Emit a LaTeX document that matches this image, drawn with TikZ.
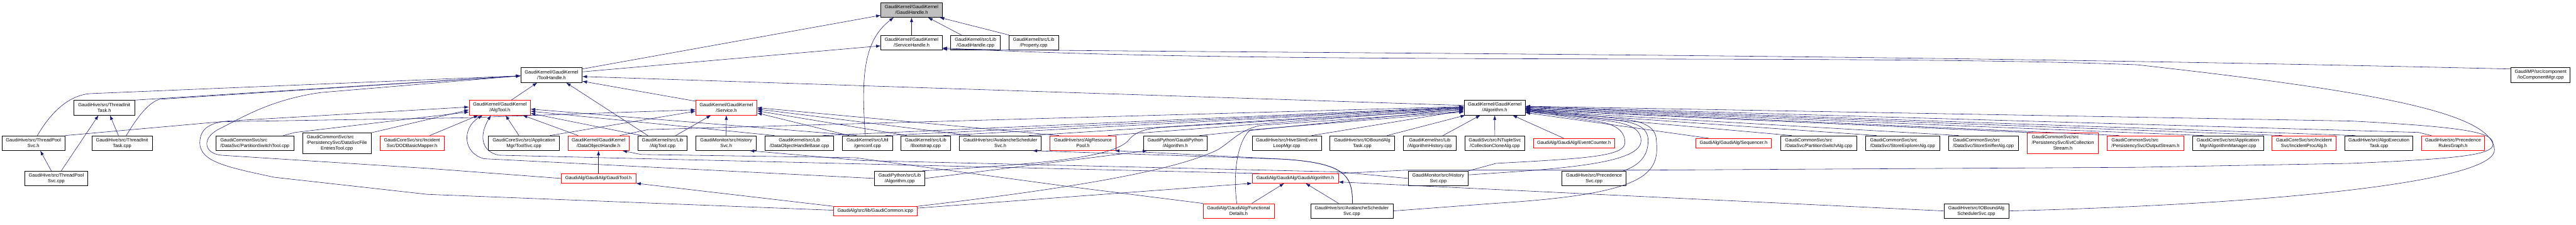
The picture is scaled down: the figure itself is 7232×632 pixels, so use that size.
\documentclass[tikz,border=0pt]{standalone}
\usepackage{fontspec}
\newfontfamily\doxfont{Liberation Sans}
\usetikzlibrary{arrows.meta}
\definecolor{edgeblue}{HTML}{191970}
\definecolor{boxred}{HTML}{FF0000}
\definecolor{rootgray}{HTML}{BFBFBF}
\tikzset{
  file/.style={draw=black, fill=white, line width=1pt, inner sep=1pt, align=center,
    minimum height=41.5pt, font=\doxfont\fontsize{13.2}{15.8}\selectfont},
  hot/.style={file, draw=boxred},
  oneline/.style={minimum height=26.5pt},
  threeline/.style={minimum height=57.3pt},
  dep/.style={->, draw=edgeblue, line width=1pt},
}
\newcommand{\leftlines}[1]{\begin{tabular}{@{}l@{}}#1\end{tabular}}
\newcommand{\midline}[1]{\multicolumn{1}{@{}c@{}}{#1}}

\begin{document}
\begin{tikzpicture}[x=1pt, y=-1pt, >={Latex[length=13pt,width=9pt]}]
\useasboundingbox[fill=white] (0,0) rectangle (7232,632);

% headers near the root
\node[file, fill=rootgray, minimum width=172pt] (gh) at (2559.2,27.7) {GaudiKernel/GaudiKernel\\/GaudiHandle.h};
\node[file, minimum width=172pt] (sh) at (2559.2,119.5) {GaudiKernel/GaudiKernel\\/ServiceHandle.h};
\node[file, minimum width=139pt] (ghcpp) at (2738.7,119.5) {GaudiKernel/src/Lib\\/GaudiHandle.cpp};
\node[file, minimum width=139pt] (propcpp) at (2902,119.5) {GaudiKernel/src/Lib\\/Property.cpp};
\node[file, minimum width=172pt] (th) at (1548.4,211) {GaudiKernel/GaudiKernel\\/ToolHandle.h};
\node[file, minimum width=166pt] (iocm) at (7132.6,211) {GaudiMP/src/component\\/IoComponentMgr.cpp};
\node[file, minimum width=170pt] (tih) at (292.6,302.5) {GaudiHive/src/ThreadInit\\Task.h};
\node[hot, minimum width=172pt] (algtoolh) at (1403.2,302.5) {GaudiKernel/GaudiKernel\\/AlgTool.h};
\node[hot, minimum width=172pt] (serviceh) at (2039.2,302.5) {GaudiKernel/GaudiKernel\\/Service.h};
\node[file, minimum width=172pt] (algh) at (4196.2,302.5) {GaudiKernel/GaudiKernel\\/Algorithm.h};

% fourth row
\node[file, minimum width=177pt] (tpsh) at (94,402) {GaudiHive/src/ThreadPool\\Svc.h};
\node[file, minimum width=169pt] (ticpp) at (342.6,402) {GaudiHive/src/ThreadInit\\Task.cpp};
\node[file, align=left, minimum width=220pt] (pstool) at (715.5,402) {GaudiCommonSvc/src\\/DataSvc/PartitionSwitchTool.cpp};
\node[file, threeline, minimum width=193pt] (dsfet) at (945.8,402) {\leftlines{GaudiCommonSvc/src\\/PersistencySvc/DataSvcFile\\\midline{EntriesTool.cpp}}};
\node[hot, minimum width=180pt] (dodbm) at (1156.6,402) {GaudiCoreSvc/src/Incident\\Svc/DODBasicMapper.h};
\node[file, minimum width=199pt] (toolsvc) at (1470.9,402) {GaudiCoreSvc/src/Application\\Mgr/ToolSvc.cpp};
\node[hot, minimum width=172pt] (dohh) at (1680.2,402) {GaudiKernel/GaudiKernel\\/DataObjectHandle.h};
\node[file, minimum width=138pt] (algtoolcpp) at (1860.2,402) {GaudiKernel/src/Lib\\/AlgTool.cpp};
\node[file, minimum width=169pt] (histsvch) at (2038.6,402) {GaudiMonitor/src/History\\Svc.h};
\node[file, minimum width=192pt] (dohbcpp) at (2244.3,402) {GaudiKernel/src/Lib\\/DataObjectHandleBase.cpp};
\node[file, minimum width=140pt] (genconf) at (2435.5,402) {GaudiKernel/src/Util\\/genconf.cpp};
\node[file, minimum width=139pt] (bootstrap) at (2598.7,402) {GaudiKernel/src/Lib\\/Bootstrap.cpp};
\node[file, minimum width=230pt] (avsh) at (2808.3,402) {GaudiHive/src/AvalancheScheduler\\Svc.h};
\node[hot, minimum width=186pt] (arph) at (3040.3,402) {GaudiHive/src/AlgResource\\Pool.h};
\node[file, minimum width=180pt] (gpalgh) at (3299.5,402) {GaudiPython/GaudiPython\\/Algorithm.h};
\node[file, minimum width=194pt] (hiveslim) at (3612.4,402) {GaudiHive/src/HiveSlimEvent\\LoopMgr.cpp};
\node[file, minimum width=182pt] (ioboundtask) at (3824.4,402) {GaudiHive/src/IOBoundAlg\\Task.cpp};
\node[file, minimum width=149pt] (alghist) at (4014,402) {GaudiKernel/src/Lib\\/AlgorithmHistory.cpp};
\node[file, minimum width=168pt] (ccalg) at (4196.6,402) {GaudiSvc/src/NTupleSvc\\/CollectionCloneAlg.cpp};
\node[hot, oneline, minimum width=229pt] (evtcounter) at (4418.8,402) {GaudiAlg/GaudiAlg/EventCounter.h};
\node[hot, oneline, minimum width=213pt] (sequencer) at (4866.7,402) {GaudiAlg/GaudiAlg/Sequencer.h};
\node[file, align=left, minimum width=215pt] (psalg) at (5105.9,402) {GaudiCommonSvc/src\\/DataSvc/PartitionSwitchAlg.cpp};
\node[file, align=left, minimum width=208pt] (sealg) at (5341.4,402) {GaudiCommonSvc/src\\/DataSvc/StoreExplorerAlg.cpp};
\node[file, align=left, minimum width=196pt] (ssalg) at (5568.3,402) {GaudiCommonSvc/src\\/DataSvc/StoreSnifferAlg.cpp};
\node[hot, threeline, minimum width=200pt] (ecs) at (5791.3,402) {\leftlines{GaudiCommonSvc/src\\/PersistencySvc/EvtCollection\\\midline{Stream.h}}};
\node[hot, align=left, minimum width=216pt] (outstream) at (6023.3,402) {GaudiCommonSvc/src\\/PersistencySvc/OutputStream.h};
\node[file, minimum width=199pt] (algmgr) at (6254.9,402) {GaudiCoreSvc/src/Application\\Mgr/AlgorithmManager.cpp};
\node[hot, minimum width=180pt] (ipalg) at (6468.4,402) {GaudiCoreSvc/src/Incident\\Svc/IncidentProcAlg.h};
\node[file, minimum width=191pt] (aet) at (6678.6,402) {GaudiHive/src/AlgoExecution\\Task.cpp};
\node[hot, minimum width=176pt] (prg) at (6886.7,402) {GaudiHive/src/Precedence\\RulesGraph.h};

% lower rows
\node[file, minimum width=177pt] (tpscpp) at (158,501.2) {GaudiHive/src/ThreadPool\\Svc.cpp};
\node[hot, oneline, minimum width=210pt] (gtool) at (1680.2,501.2) {GaudiAlg/GaudiAlg/GaudiTool.h};
\node[file, minimum width=142pt] (gpalgcpp) at (2525.7,501.2) {GaudiPython/src/Lib\\/Algorithm.cpp};
\node[hot, oneline, minimum width=242pt] (galgh) at (3636.3,501.2) {GaudiAlg/GaudiAlg/GaudiAlgorithm.h};
\node[file, minimum width=169pt] (histsvccpp) at (4037.7,501.2) {GaudiMonitor/src/History\\Svc.cpp};
\node[file, minimum width=180pt] (precsvc) at (4475.2,501.2) {GaudiHive/src/Precedence\\Svc.cpp};
\node[hot, oneline, minimum width=236pt, minimum height=25.3pt] (gcicpp) at (2457.3,592.6) {GaudiAlg/src/lib/GaudiCommon.icpp};
\node[hot, minimum width=200pt] (fdh) at (3477.3,592.6) {GaudiAlg/GaudiAlg/Functional\\Details.h};
\node[file, minimum width=231pt] (avscpp) at (3795,592.6) {GaudiHive/src/AvalancheScheduler\\Svc.cpp};
\node[file, minimum width=182pt] (iobsched) at (5548.3,592.6) {GaudiHive/src/IOBoundAlg\\SchedulerSvc.cpp};

% into the root and ServiceHandle.h
\draw[dep] (sh) -- (gh);
\draw[dep] ([xshift=-40pt]ghcpp.north) -- ([xshift=46pt]gh.south);
\draw[dep] (propcpp.north west) -- ([xshift=-8pt]gh.south east);
\draw[dep] ([yshift=-4pt]th.north east) -- ([yshift=6pt]gh.south west);
\draw[dep] ([yshift=-12pt]th.north east) -- ([yshift=12pt]sh.south west);
\draw[dep] ([xshift=-6pt]genconf.north) .. controls (2415,200) and (2430,110) .. ([xshift=-50pt]gh.south);
\draw[dep] ([yshift=-4pt]iocm.north west) .. controls (5200,150) and (3600,150) .. ([yshift=3pt]sh.south east);
\draw[dep] (iobsched.east) .. controls (6500,570) and (7010,500) .. (7003,420)
  .. controls (6995,320) and (6700,260) .. (6000,182)
  .. controls (5200,150) and (3600,185) .. ([yshift=6pt]sh.south east);

% into ToolHandle.h
\draw[dep] (tih.north east) -- ([yshift=-2pt]th.west);
\draw[dep] ([xshift=11pt]tpsh.north) .. controls (140,320) and (190,268) .. (253,263) -- ([yshift=-2pt]th.west);
\draw[dep] ([xshift=12pt]ticpp.north) .. controls (385,330) and (415,290) .. (447,279) -- ([yshift=-2pt]th.west);
\draw[dep] (gtool.west) -- (1200,473) -- (620,436) .. controls (570,430) and (565,385) .. (620,360)
  .. controls (680,330) and (760,280) .. (900,260) -- ([yshift=-2pt]th.west);
\draw[dep] ([xshift=32pt]algtoolh.north) -- ([xshift=-40pt]th.south);
\draw[dep] ([yshift=-3pt]serviceh.north west) -- ([yshift=4pt]th.south east);
\draw[dep] ([yshift=-15pt]algh.north west) -- ([yshift=-4pt]th.east);
\draw[dep] ([xshift=28pt]algtoolcpp.north west) -- ([xshift=41pt]th.south);

% thread pool files
\draw[dep] ([xshift=-10pt]ticpp.north) -- ([xshift=16pt]tih.south);
\draw[dep] ([xshift=-14pt]tpscpp.north) -- ([xshift=19pt]tpsh.south);
\draw[dep] ([xshift=14pt]tpscpp.north) -- ([xshift=-16pt]tih.south);
\draw[dep] (tpsh.north east) -- (620,342) -- (1300,331) -- ([yshift=-6pt]serviceh.west);

% into AlgTool.h
\draw[dep] ([xshift=80pt]pstool.north) -- (829,372) -- ([yshift=-12pt]algtoolh.west);
\draw[dep] (dsfet.north east) -- ([yshift=-6pt]algtoolh.west);
\draw[dep] ([yshift=2pt]gcicpp.west) -- (1200,546) -- (770,498) .. controls (640,470) and (560,455) .. (561,400)
  .. controls (562,360) and (590,345) .. (640,340) -- ([yshift=2pt]algtoolh.west);
\draw[dep] ([xshift=50pt]dodbm.north) -- ([xshift=-60pt]algtoolh.south);
\draw[dep] (gpalgcpp.west) -- (1360,446) .. controls (1300,432) and (1295,360) .. ([xshift=-48pt]algtoolh.south);
\draw[dep] ([xshift=22pt]galgh.north west) -- (1400,436) .. controls (1350,425) and (1345,380) .. ([xshift=-25pt]algtoolh.south);
\draw[dep] ([xshift=-14pt]toolsvc.north) -- ([xshift=16pt]algtoolh.south);
\draw[dep] ([xshift=-57pt]dohh.north) -- ([xshift=64pt]algtoolh.south);
\draw[dep] ([xshift=10pt]algtoolcpp.north west) -- ([yshift=-16pt]algtoolh.east);
\draw[dep] ([xshift=-70pt]dohbcpp.north) -- ([yshift=-10pt]algtoolh.east);
\draw[dep] ([xshift=-30pt]genconf.north) -- ([yshift=-4pt]algtoolh.east);

% into Service.h
\draw[dep] ([xshift=73pt]toolsvc.north) -- ([yshift=-10pt]serviceh.west);
\draw[dep] ([xshift=37pt]algtoolcpp.north) -- ([xshift=-43pt]serviceh.south);
\draw[dep] (histsvch) -- (serviceh);
\draw[dep] ([xshift=-52pt]genconf.north) -- ([yshift=-15pt]serviceh.east);
\draw[dep] ([xshift=-53pt]bootstrap.north) -- ([yshift=-9pt]serviceh.east);
\draw[dep] ([xshift=-84pt]avsh.north) -- ([yshift=-4pt]serviceh.east);
\draw[dep] ([xshift=-67pt]arph.north) -- (serviceh.east);

% into Algorithm.h, left side
\draw[dep] ([xshift=60pt]dohh.north) -- (1820,364) -- ([yshift=3pt]algh.west);
\draw[dep] ([xshift=66pt]dohbcpp.north) -- ([yshift=2pt]algh.west);
\draw[dep] ([xshift=50pt]genconf.north) -- ([yshift=1pt]algh.west);
\draw[dep] ([xshift=50pt]bootstrap.north) -- (algh.west);
\draw[dep] ([xshift=80pt]avsh.north) -- ([yshift=-1pt]algh.west);
\draw[dep] ([xshift=70pt]arph.north) -- ([yshift=-2pt]algh.west);
\draw[dep] ([xshift=68pt]gpalgh.north) -- ([yshift=-4pt]algh.west);
\draw[dep] ([xshift=70pt]hiveslim.north) -- ([yshift=-8pt]algh.west);
\draw[dep] ([xshift=-8pt]gpalgcpp.north east) .. controls (2900,462) and (3130,445) .. (3170,392)
  .. controls (3190,368) and (3220,362) .. (3260,358) -- ([yshift=-6pt]algh.west);
\draw[dep] (gcicpp.north east) .. controls (3000,530) and (3300,480) .. (3420,420)
  .. controls (3460,395) and (3480,365) .. (3540,352) -- ([yshift=-10pt]algh.west);
\draw[dep] ([xshift=-5pt]fdh.north) .. controls (3462,500) and (3470,400) .. (3510,365) -- ([yshift=-12pt]algh.west);
\draw[dep] ([xshift=70pt]ioboundtask.north) -- ([xshift=4pt]algh.south west);
\draw[dep] ([xshift=37pt]alghist.north) -- ([xshift=-40pt]algh.south);
\draw[dep] (ccalg) -- (algh);
\draw[dep] ([xshift=-29pt]evtcounter.north) -- ([xshift=50pt]algh.south);

% into Algorithm.h, right side
\draw[dep] ([xshift=-70pt]sequencer.north) -- ([yshift=-14pt]algh.east);
\draw[dep] ([xshift=-76pt]psalg.north) -- ([yshift=-12pt]algh.east);
\draw[dep] ([xshift=-73pt]sealg.north) -- ([yshift=-10pt]algh.east);
\draw[dep] ([xshift=-69pt]ssalg.north) -- ([yshift=-8pt]algh.east);
\draw[dep] ([xshift=-85pt]ecs.north) -- ([yshift=-6pt]algh.east);
\draw[dep] ([xshift=-74pt]outstream.north) -- ([yshift=-4pt]algh.east);
\draw[dep] ([xshift=-69pt]algmgr.north) -- ([yshift=-2pt]algh.east);
\draw[dep] ([xshift=-61pt]ipalg.north) -- (algh.east);
\draw[dep] ([xshift=-66pt]aet.north) -- ([yshift=2pt]algh.east);
\draw[dep] ([xshift=-61pt]prg.north) -- (6790,372) -- ([yshift=3pt]algh.east);
\draw[dep] ([xshift=-4pt]galgh.north east) -- (3950,478) -- (4600,478) -- (6000,470) -- (6600,459)
  .. controls (6906,446) and (6999,435) .. (6999,405) .. controls (6999,375) and (6950,358) .. (6600,340)
  -- ([yshift=4pt]algh.east);
\draw[dep] (histsvccpp.north east) -- (4200,459) .. controls (4450,445) and (4562,440) .. (4562,400)
  .. controls (4562,360) and (4520,345) .. (4477,340) -- ([yshift=-8pt]algh.east);
\draw[dep] ([yshift=10pt]histsvccpp.east) -- (4200,486) .. controls (4450,470) and (4607,450) .. (4607,395)
  .. controls (4607,360) and (4570,345) .. (4500,338) -- ([yshift=-6pt]algh.east);
\draw[dep] ([xshift=-8pt]precsvc.north east) .. controls (4600,465) and (4627,440) .. (4627,395)
  .. controls (4627,355) and (4590,342) .. (4520,336) -- ([yshift=-4pt]algh.east);
\draw[dep] (avscpp.east) -- (4200,571) .. controls (4620,545) and (4660,490) .. (4650,395)
  .. controls (4650,350) and (4600,338) .. (4540,333) -- ([yshift=-2pt]algh.east);

% lower rows
\draw[dep] (gtool) -- (dohh);
\draw[dep] (gcicpp.north west) -- (gtool.south east);
\draw[dep] ([yshift=8pt]gcicpp.east) -- (galgh.south west);
\draw[dep] (gpalgcpp.east) -- ([xshift=-78pt]gpalgh.south);
\draw[dep] (histsvccpp.west) -- (3760,483) -- (2420,451) -- ([xshift=66pt]histsvch.south);
\draw[dep] ([xshift=-37pt]avscpp.north) -- ([xshift=29pt]galgh.south);
\draw[dep] ([xshift=2pt]avscpp.north) .. controls (3797,495) and (3780,458) .. (3600,447) -- ([xshift=-4pt]arph.south east);
\draw[dep] ([xshift=2pt]avscpp.north) .. controls (3797,495) and (3780,458) .. (3600,447) -- ([xshift=-25pt]avsh.south east);
\draw[dep] ([xshift=37pt]fdh.north) -- ([xshift=-31pt]galgh.south);
\draw[dep] (fdh.north west) -- (3000,524) -- (2400,443) -- (1800,434) -- ([xshift=67pt]dohh.south);
\draw[dep] (iobsched.west) -- ([yshift=-10pt]galgh.east);
\end{tikzpicture}
\end{document}
